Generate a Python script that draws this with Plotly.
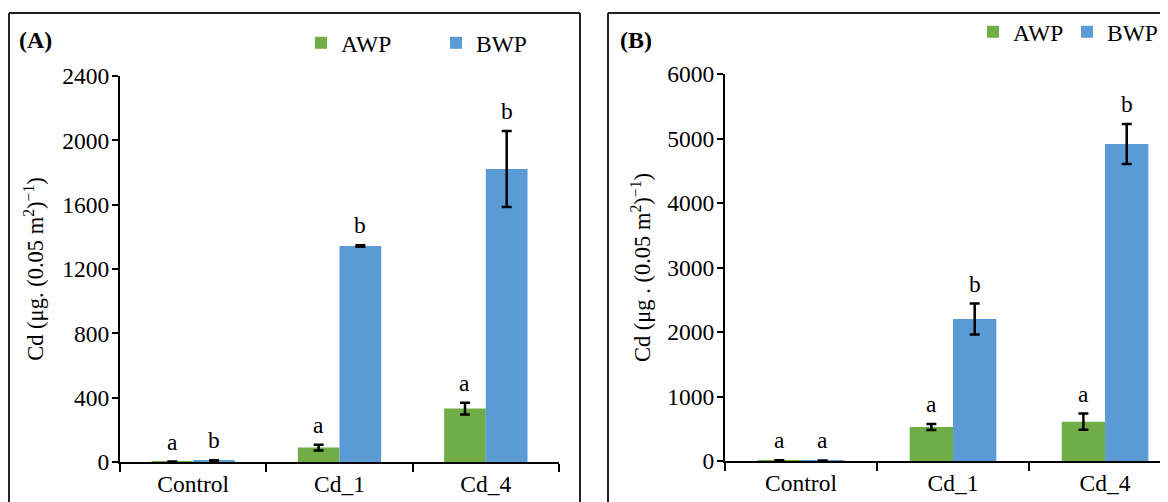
import plotly.graph_objects as go

categories = ["Control", "Cd_1", "Cd_4"]
series_names = ["AWP", "BWP"]

# Panel A
a_awp = [2, 90, 332]
a_awp_err = [1, 18, 37]
a_bwp = [8, 1343, 1822]
a_bwp_err = [3, 5, 236]
a_awp_letters = ["a", "a", "a"]
a_bwp_letters = ["b", "b", "b"]
a_yticks = [0, 400, 800, 1200, 1600, 2000, 2400]

# Panel B
b_awp = [8, 527, 610]
b_awp_err = [3, 45, 125]
b_bwp = [6, 2200, 4915]
b_bwp_err = [3, 240, 310]
b_awp_letters = ["a", "a", "a"]
b_bwp_letters = ["a", "b", "b"]
b_yticks = [0, 1000, 2000, 3000, 4000, 5000, 6000]

# The page body has an 8px margin, so the figure is 8px smaller than the window
OFF = 8
W, H = 1168 - OFF, 502 - OFF
GREEN = "#70AD47"
BLUE = "#5B9BD5"
FONT = "Liberation Serif"
FS = 23.5


def px(x):
    return (x - OFF) / W


def py(y):
    return 1 - (y - OFF) / H


fig = go.Figure()

err_style = dict(type="data", visible=True, color="black", thickness=2.5, width=5)

panels = [
    ("x", "y", "legend", a_awp, a_awp_err, a_bwp, a_bwp_err, a_awp_letters, a_bwp_letters),
    ("x2", "y2", "legend2", b_awp, b_awp_err, b_bwp, b_bwp_err, b_awp_letters, b_bwp_letters),
]

annotations = []
for xa, ya, lg, awp, awp_e, bwp, bwp_e, la, lb in panels:
    fig.add_trace(go.Bar(x=categories, y=awp, name=series_names[0], marker_color=GREEN,
                         marker_line_width=0, error_y=dict(array=awp_e, **err_style),
                         xaxis=xa, yaxis=ya, legend=lg))
    fig.add_trace(go.Bar(x=categories, y=bwp, name=series_names[1], marker_color=BLUE,
                         marker_line_width=0, error_y=dict(array=bwp_e, **err_style),
                         xaxis=xa, yaxis=ya, legend=lg))
    for i in range(len(categories)):
        for vals, errs, lets, off in ((awp, awp_e, la, -0.143), (bwp, bwp_e, lb, 0.143)):
            annotations.append(dict(x=i + off, y=vals[i] + errs[i], xref=xa, yref=ya,
                                    text=lets[i], showarrow=False, yanchor="bottom",
                                    yshift=5, font=dict(family=FONT, size=FS, color="black")))

annotations.append(dict(x=px(17), y=py(40), xref="paper", yref="paper", text="<b>(A)</b>",
                        showarrow=False, xanchor="left", yanchor="middle",
                        font=dict(family=FONT, size=24, color="black")))
annotations.append(dict(x=px(618), y=py(40), xref="paper", yref="paper", text="<b>(B)</b>",
                        showarrow=False, xanchor="left", yanchor="middle",
                        font=dict(family=FONT, size=24, color="black")))

axis_common = dict(showline=True, linecolor="black", linewidth=2, showgrid=False,
                   zeroline=False, ticks="outside", tickcolor="black", tickwidth=2,
                   automargin=False,
                   tickfont=dict(family=FONT, size=FS, color="black"))

border = dict(color="#222", width=2)


def seg(x0, y0, x1, y1):
    return dict(type="line", xref="paper", yref="paper", x0=x0, y0=y0, x1=x1, y1=y1,
                line=border)


shapes = [
    seg(px(9), 0, px(9), py(13)),
    seg(px(9), py(13), px(580), py(13)),
    seg(px(580), py(13), px(580), 0),
    seg(px(608), 0, px(608), py(13)),
    seg(px(608), py(13), 1, py(13)),
]

title_font = dict(family=FONT, size=22.5, color="black")

fig.update_layout(
    template="none",
    width=W, height=H, margin=dict(l=0, r=0, t=0, b=0, pad=0),
    paper_bgcolor="white", plot_bgcolor="white",
    barmode="group", bargap=0.43, bargroupgap=0,
    font=dict(family=FONT, size=FS, color="black"),
    xaxis=dict(domain=[px(120), px(559)], anchor="y", type="category",
               range=[-0.5, 2.5], tickson="boundaries", ticklen=8, **axis_common),
    yaxis=dict(domain=[py(462), py(76)], anchor="x", range=[0, 2400], tickvals=a_yticks,
               ticklen=6, ticklabelstandoff=-2,
               title=dict(text="Cd (μg. (0.05 m<sup>2</sup>)<sup>−1</sup>)", standoff=12,
                          font=title_font),
               **axis_common),
    xaxis2=dict(domain=[px(725), 1.0], anchor="y2", type="category",
                range=[-0.5, 2.414], tickson="boundaries", ticklen=8, **axis_common),
    yaxis2=dict(domain=[py(461), py(74)], anchor="x2", range=[0, 6000], tickvals=b_yticks,
                ticklen=6, ticklabelstandoff=-2,
                title=dict(text="Cd (μg . (0.05 m<sup>2</sup>)<sup>−1</sup>)", standoff=10,
                           font=title_font),
                **axis_common),
    legend=dict(orientation="h", x=px(301), y=py(21), xanchor="left", yanchor="top",
                entrywidth=90, entrywidthmode="pixels", itemwidth=30,
                font=dict(family=FONT, size=FS, color="black"), bgcolor="rgba(0,0,0,0)",
                tracegroupgap=0),
    legend2=dict(orientation="h", x=px(973), y=py(10), xanchor="left", yanchor="top",
                 entrywidth=49, entrywidthmode="pixels", itemwidth=30,
                 font=dict(family=FONT, size=FS, color="black"), bgcolor="rgba(0,0,0,0)",
                 tracegroupgap=0),
    annotations=annotations,
    shapes=shapes,
)

fig.write_html("out.html")
